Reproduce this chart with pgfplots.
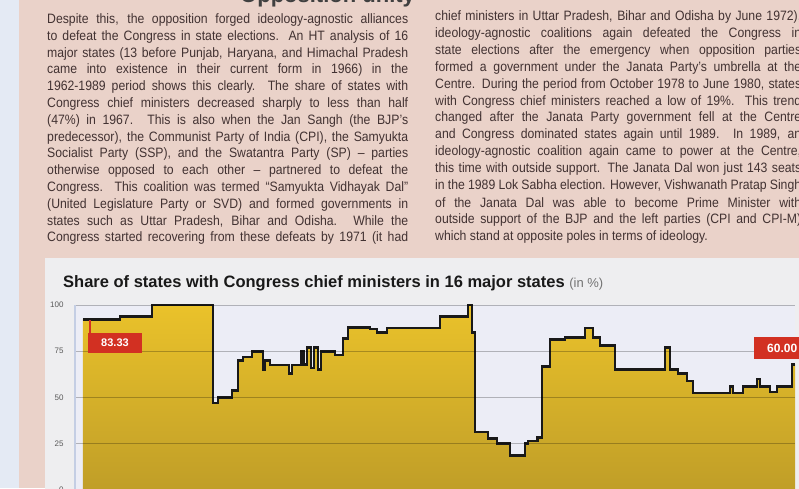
\documentclass[border=0pt]{standalone}
\usepackage{fontspec}
\setmainfont{Liberation Sans}
\newfontfamily\bodyfont[FakeStretch=0.9]{Liberation Sans}
\usepackage{pgfplots}
\usepackage{pgfplotstable}
\pgfplotsset{compat=1.18}

\definecolor{paper}{RGB}{234,210,201}
\definecolor{strip}{RGB}{228,234,244}
\definecolor{boxbg}{RGB}{238,238,240}
\definecolor{plotbg}{RGB}{236,237,246}
\definecolor{inktext}{RGB}{66,50,50}
\definecolor{goldtop}{RGB}{234,194,42}
\definecolor{goldbot}{RGB}{192,158,40}
\definecolor{tagred}{RGB}{210,48,34}
\definecolor{axisblue}{RGB}{196,206,228}

% share of the 16 major states with a Congress chief minister (%)
\pgfplotstableread{
year share
1962.00 92.31
1963.45 93.75
1964.70 100
1967.08 47
1967.28 50
1967.83 53.8
1968.06 70
1968.26 72
1968.61 75
1969.04 65
1969.12 70
1969.31 67.5
1970.06 63
1970.17 67.5
1970.56 75
1970.64 68
1970.76 77
1970.92 66
1971.03 77
1971.19 65
1971.31 75
1971.86 73
1972.17 82
1972.36 88
1973.22 87
1973.50 85
1973.89 87.5
1975.96 93.75
1977.06 100
1977.21 85
1977.33 31.25
1977.84 28
1978.19 25
1978.70 18.75
1979.29 25
1979.40 26.5
1979.79 28.5
1979.95 66.7
1980.26 81.25
1980.85 82.5
1981.63 87.5
1981.95 82.5
1982.22 78
1982.81 65
1984.76 77
1984.96 65
1985.27 63
1985.62 59
1985.86 52.5
1987.30 56
1987.42 52.5
1987.81 56
1988.36 60
1988.48 56
1988.87 53
1989.14 56
1989.73 68
1989.85 68
}\congress

\newcommand{\bodysize}{\bodyfont\fontsize{13.6}{15}\selectfont}
\newcommand{\lcol}[2]{\node[anchor=west,inner sep=0pt,text=inktext,
  font=\bodysize] at (47,#1) {\makebox[361pt][s]{#2}};}
\newcommand{\rcol}[2]{\node[anchor=west,inner sep=0pt,text=inktext,
  font=\bodysize] at (435,#1) {\makebox[366pt][s]{#2}};}

\begin{document}
\begin{tikzpicture}[x=1pt,y=1pt]
\useasboundingbox (0,0) rectangle (799,488);
\clip (0,0) rectangle (799,488);
\fill[paper] (0,0) rectangle (799,488);
\fill[strip] (0,0) rectangle (19,488);

% bottom of the page headline, cut by the top edge
\node[anchor=base west,inner sep=0pt,text=black!75,
  font=\bfseries\fontsize{22}{22}\selectfont] at (240,485) {Opposition unity};

% left column
\lcol{468.0}{Despite this, the opposition forged ideology-agnostic alliances}
\lcol{451.2}{to defeat the Congress in state elections. An HT analysis of 16}
\lcol{434.4}{major states (13 before Punjab, Haryana, and Himachal Pradesh}
\lcol{417.6}{came into existence in their current form in 1966) in the}
\lcol{400.8}{1962-1989 period shows this clearly. The share of states with}
\lcol{384.0}{Congress chief ministers decreased sharply to less than half}
\lcol{367.2}{(47\%) in 1967. This is also when the Jan Sangh (the BJP’s}
\lcol{350.4}{predecessor), the Communist Party of India (CPI), the Samyukta}
\lcol{333.6}{Socialist Party (SSP), and the Swatantra Party (SP) – parties}
\lcol{316.8}{otherwise opposed to each other – partnered to defeat the}
\lcol{300.0}{Congress. This coalition was termed “Samyukta Vidhayak Dal”}
\lcol{283.2}{(United Legislature Party or SVD) and formed governments in}
\lcol{266.4}{states such as Uttar Pradesh, Bihar and Odisha. While the}
\lcol{249.6}{Congress started recovering from these defeats by 1971 (it had}

% right column
\rcol{471.0}{chief ministers in Uttar Pradesh, Bihar and Odisha by June 1972),}
\rcol{454.1}{ideology-agnostic coalitions again defeated the Congress in}
\rcol{437.2}{state elections after the emergency when opposition parties}
\rcol{420.3}{formed a government under the Janata Party’s umbrella at the}
\rcol{403.4}{Centre. During the period from October 1978 to June 1980, states}
\rcol{386.5}{with Congress chief ministers reached a low of 19\%. This trend}
\rcol{369.6}{changed after the Janata Party government fell at the Centre}
\rcol{352.7}{and Congress dominated states again until 1989. In 1989, an}
\rcol{335.8}{ideology-agnostic coalition again came to power at the Centre,}
\rcol{318.9}{this time with outside support. The Janata Dal won just 143 seats}
\rcol{302.0}{in the 1989 Lok Sabha election. However, Vishwanath Pratap Singh}
\rcol{285.1}{of the Janata Dal was able to become Prime Minister with}
\rcol{268.2}{outside support of the BJP and the left parties (CPI and CPI-M)}
\node[anchor=west,inner sep=0pt,text=inktext,font=\bodysize]
  at (435,251.3) {which stand at opposite poles in terms of ideology.};

% chart panel
\fill[boxbg] (45,-5) rectangle (815,230);
\node[anchor=base west,inner sep=0pt,text=black!90] at (63,201)
  {\bfseries\fontsize{16.5}{16.5}\selectfont Share of states with Congress chief ministers in 16 major states
   \mdseries\color{black!55}\fontsize{13}{13}\selectfont(in \%)};

\begin{axis}[
  at={(75pt,-2pt)}, anchor=south west,
  scale only axis, width=720pt, height=185pt,
  xmin=1961.69, xmax=1989.85, ymin=0, ymax=100,
  clip=false,
  axis x line=none, axis y line*=left,
  y axis line style={color=axisblue, line width=1.6pt, -},
  ytick={0,25,50,75,100},
  major tick length=0pt,
  ymajorgrids,
  major grid style={color=black, opacity=0.25, line width=1pt},
  yticklabel style={font=\fontsize{8}{8}\selectfont, text=black!65, xshift=-8pt},
  /pgf/number format/assume math mode=true,
  axis background/.style={fill=plotbg},
  axis on top,
]
\addplot[const plot, draw=none, top color=goldtop, bottom color=goldbot]
  table[x=year, y=share] {\congress} \closedcycle;
\addplot[const plot, black!90, line width=2.6pt, line join=miter]
  table[x=year, y=share] {\congress};
\end{axis}

% value tags
\draw[tagred, line width=1.2pt] (90,155) -- (90,168);
\node[fill=tagred, text=white, inner sep=0pt, minimum width=54pt, minimum height=20pt,
  font=\bfseries\fontsize{11}{11}\selectfont] at (115,145) {83.33};
\node[fill=tagred, text=white, inner sep=0pt, minimum width=56pt, minimum height=22pt,
  anchor=west, font=\bfseries\fontsize{12}{12}\selectfont] at (754,140) {60.00};
\end{tikzpicture}
\end{document}
